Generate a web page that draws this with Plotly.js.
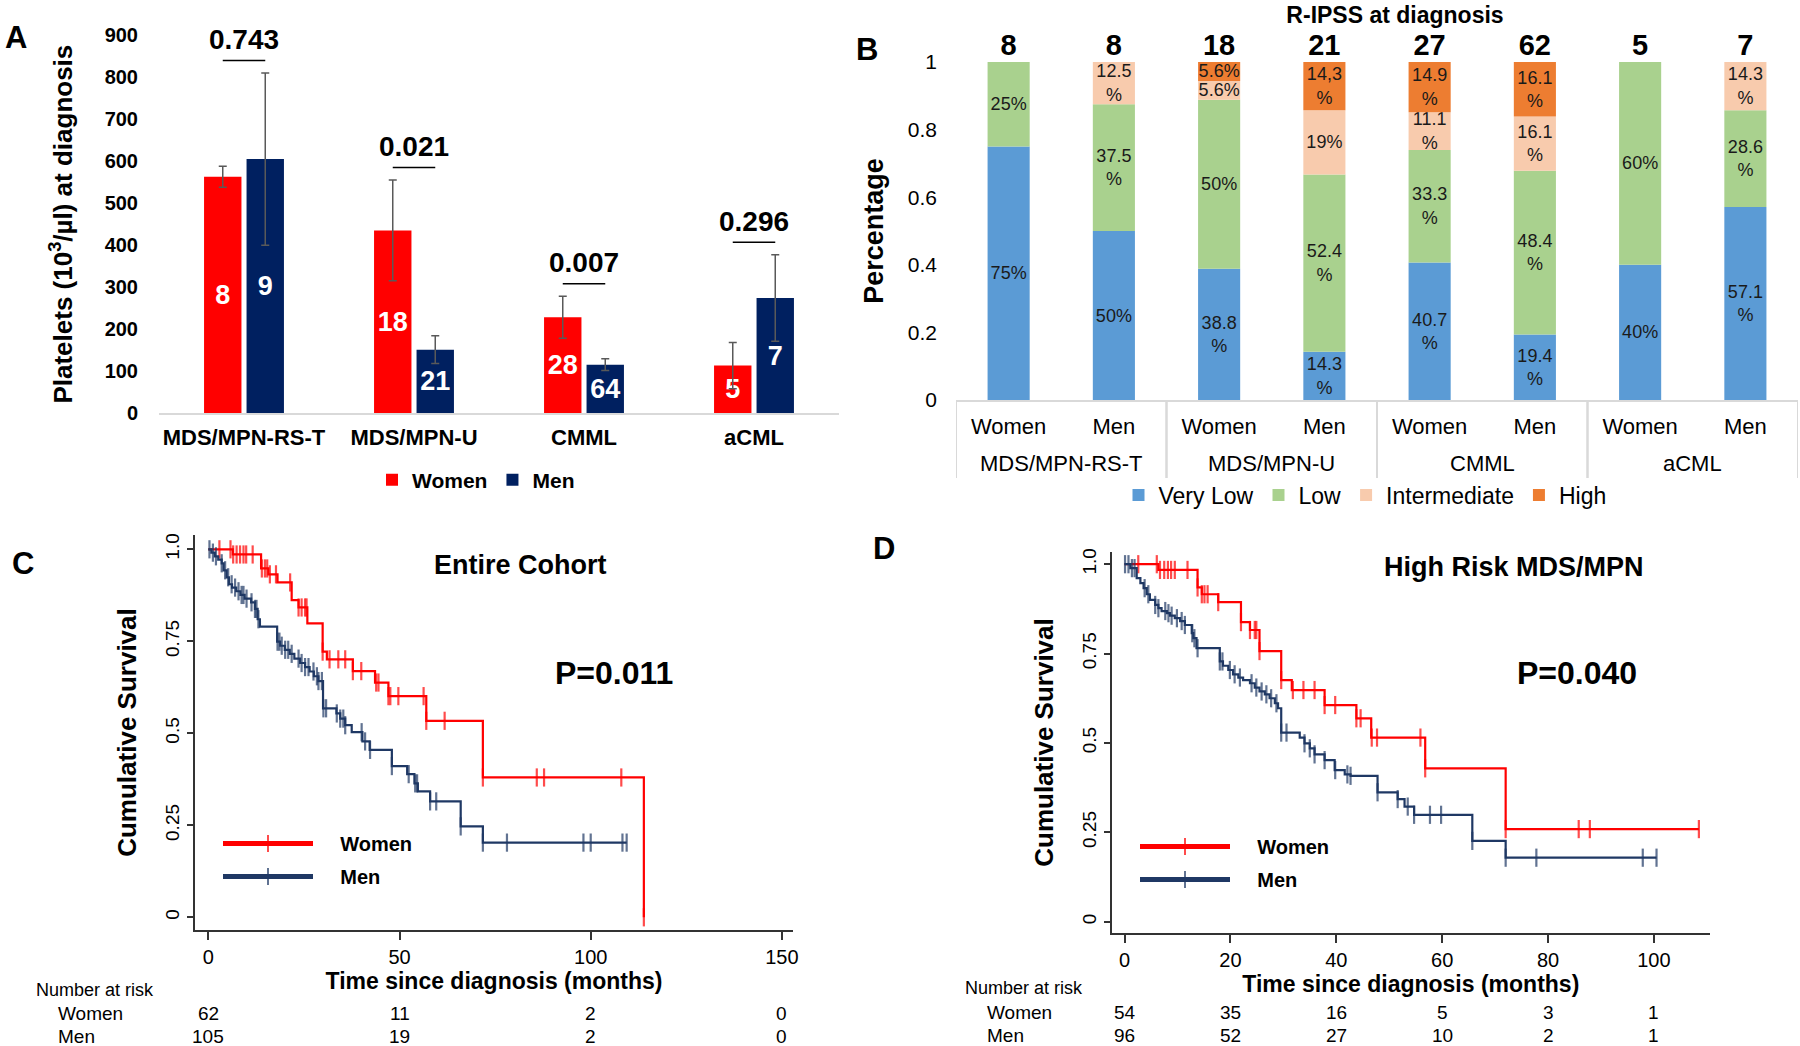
<!DOCTYPE html>
<html><head><meta charset="utf-8">
<script src="https://cdn.plot.ly/plotly-3.0.1.min.js"></script>
<style>html,body{margin:0;padding:0;background:#fff}#chart{width:1800px;height:1046px}</style>
</head><body><div id="chart"></div>
<script>
// ---------- Panel A: platelets ----------
const subtypes = ["MDS/MPN-RS-T", "MDS/MPN-U", "CMML", "aCML"];
const plateletWomen = [563, 435, 228, 113];
const plateletWomenErr = [25, 120, 50, 55];
const plateletMen = [605, 151, 115, 274];
const plateletMenErr = [205, 33, 14, 103];
const nWomen = [8, 18, 28, 5];
const nMen = [9, 21, 64, 7];
const pValues = ["0.743", "0.021", "0.007", "0.296"];

// ---------- Panel B: R-IPSS ----------
const bGroups = ["MDS/MPN-RS-T","MDS/MPN-RS-T","MDS/MPN-U","MDS/MPN-U","CMML","CMML","aCML","aCML"];
const bSex = ["Women","Men","Women","Men","Women","Men","Women","Men"];
const bCounts = [8, 8, 18, 21, 27, 62, 5, 7];
const veryLow = [0.75, 0.5, 0.388, 0.143, 0.407, 0.194, 0.4, 0.571];
const low = [0.25, 0.375, 0.5, 0.524, 0.333, 0.484, 0.6, 0.286];
const intermediate = [0, 0.125, 0.056, 0.19, 0.111, 0.161, 0, 0.143];
const high = [0, 0, 0.056, 0.143, 0.149, 0.161, 0, 0];
const veryLowLabels = ["75%","50%","38.8<br>%","14.3<br>%","40.7<br>%","19.4<br>%","40%","57.1<br>%"];
const lowLabels = ["25%","37.5<br>%","50%","52.4<br>%","33.3<br>%","48.4<br>%","60%","28.6<br>%"];
const intermediateLabels = ["","12.5<br>%","5.6%","19%","11.1<br>%","16.1<br>%","","14.3<br>%"];
const highLabels = ["","","5.6%","14,3<br>%","14.9<br>%","16.1<br>%","",""];

// ---------- Panel C: entire cohort KM ----------
const cWomenT = [6.4, 13.8, 15.7, 18.1, 21.8, 23.6, 25.9, 29.9, 31.0, 37.8, 43.6, 47.1, 57.0, 71.8, 113.9];
const cWomenS = [0.986, 0.948, 0.932, 0.910, 0.862, 0.842, 0.799, 0.722, 0.701, 0.669, 0.638, 0.601, 0.534, 0.380, 0];
const cWomenCens = [2.9, 5.8, 6.5, 7.4, 8.3, 9.2, 9.9, 11.6, 14.0, 14.8, 15.4, 16.1, 17.7, 21.4, 23.6, 24.4, 25.3, 25.7, 29.9, 31.7, 34.0, 35.8, 37.8, 40.0, 43.9, 44.5, 47.1, 47.6, 49.7, 56.3, 57.0, 61.8, 71.8, 85.9, 87.8, 108.0, 113.9];
const cMenT = [0.8, 1.7, 2.6, 3.5, 4.0, 4.8, 5.4, 6.2, 7.3, 8.4, 9.5, 11.2, 12.2, 12.9, 13.5, 18.0, 18.8, 20.0, 21.3, 22.5, 24.0, 25.3, 26.5, 27.6, 28.8, 30.0, 33.5, 34.5, 35.8, 37.5, 40.3, 42.2, 48.0, 52.0, 53.9, 54.8, 58.0, 66.0, 71.8];
const cMenS = [0.991, 0.981, 0.972, 0.962, 0.943, 0.924, 0.905, 0.896, 0.886, 0.876, 0.866, 0.856, 0.838, 0.810, 0.790, 0.749, 0.738, 0.727, 0.716, 0.703, 0.691, 0.680, 0.668, 0.655, 0.642, 0.568, 0.554, 0.540, 0.522, 0.503, 0.478, 0.455, 0.411, 0.389, 0.364, 0.342, 0.315, 0.247, 0.203];
const cMenCens = [0.3, 1.2, 2.0, 3.5, 4.4, 5.2, 6.1, 7.0, 7.9, 8.7, 9.2, 10.0, 11.3, 12.2, 12.6, 13.1, 18.1, 18.6, 19.2, 20.1, 20.9, 21.8, 23.6, 24.4, 25.3, 26.2, 27.5, 28.4, 28.8, 29.7, 30.1, 30.8, 33.6, 34.5, 35.3, 35.8, 40.1, 41.0, 42.3, 48.0, 52.4, 54.1, 54.6, 58.0, 59.6, 66.0, 71.8, 78.1, 98.1, 100.0, 108.3, 109.4];
const riskTimesC = [0, 50, 100, 150];
const riskWomenC = [62, 11, 2, 0];
const riskMenC = [105, 19, 2, 0];

// ---------- Panel D: high risk KM ----------
const dWomenT = [6.4, 13.8, 14.6, 17.7, 22.0, 23.7, 25.5, 29.6, 31.6, 37.8, 43.8, 46.6, 56.8, 72.0];
const dWomenS = [0.984, 0.935, 0.916, 0.894, 0.838, 0.816, 0.757, 0.676, 0.648, 0.606, 0.569, 0.515, 0.429, 0.259];
const dWomenCens = [2.6, 6.1, 6.7, 7.5, 8.2, 8.8, 9.5, 11.9, 13.8, 14.6, 15.1, 15.7, 17.7, 22.0, 23.7, 24.6, 24.9, 25.5, 29.6, 31.8, 33.8, 35.9, 37.8, 39.8, 43.8, 44.6, 46.7, 47.7, 55.9, 56.8, 72.0, 85.8, 87.9, 108.5];
const dMenT = [1.1, 2.3, 3.0, 3.6, 4.2, 4.8, 5.8, 6.4, 7.0, 8.0, 8.6, 9.5, 10.5, 11.4, 12.7, 13.0, 13.6, 18.0, 18.6, 19.6, 20.5, 21.5, 22.4, 23.7, 24.6, 25.5, 26.5, 27.4, 28.4, 29.0, 29.6, 33.1, 34.0, 35.0, 35.9, 37.8, 39.7, 41.6, 42.7, 47.8, 51.6, 52.9, 54.7, 65.7, 72.0];
const dMenS = [0.989, 0.961, 0.947, 0.933, 0.916, 0.900, 0.886, 0.877, 0.869, 0.863, 0.856, 0.849, 0.841, 0.830, 0.807, 0.793, 0.765, 0.728, 0.716, 0.704, 0.692, 0.683, 0.676, 0.667, 0.655, 0.644, 0.636, 0.625, 0.611, 0.597, 0.529, 0.515, 0.499, 0.485, 0.468, 0.452, 0.424, 0.412, 0.408, 0.362, 0.343, 0.322, 0.299, 0.226, 0.179];
const dMenCens = [0.1, 0.75, 1.4, 1.9, 3.8, 4.5, 5.8, 6.4, 7.7, 8.3, 8.9, 9.9, 10.8, 11.4, 12.8, 13.2, 13.8, 18.0, 18.5, 19.9, 20.8, 21.8, 24.0, 24.9, 25.9, 26.8, 27.7, 28.7, 29.6, 30.6, 34.0, 35.0, 35.9, 37.8, 39.8, 42.1, 42.7, 47.8, 51.6, 53.5, 54.7, 57.7, 59.8, 65.7, 72.0, 77.8, 97.9, 100.5];
const riskTimesD = [0, 20, 40, 60, 80, 100];
const riskWomenD = [54, 35, 16, 5, 3, 1];
const riskMenD = [96, 52, 27, 10, 2, 1];

// ---------- styling ----------
const FONT = "Liberation Sans, Arial, Helvetica, sans-serif";
const RED = "#FF0000", NAVY_A = "#002060", NAVY = "#1F3864";
const CVL = "#5B9BD5", CLOW = "#A9D18E", CINT = "#F8CBAD", CHIGH = "#ED7D31";
const GRID = "#d9d9d9";
const px = v => v / 1800, py = v => 1 - v / 1046;
const PAD = "\u00a0\u00a0\u00a0\u00a0";

const traces = [];

// Panel A bars
[[plateletWomen, plateletWomenErr, nWomen, "Women", RED], [plateletMen, plateletMenErr, nMen, "Men", NAVY_A]].forEach(d => {
  traces.push({
    type: "bar", x: subtypes, y: d[0], name: d[3], xaxis: "x", yaxis: "y", legend: "legend",
    marker: {color: d[4]},
    error_y: {type: "data", array: d[1], color: "#595959", thickness: 1.5, width: 4},
    text: d[2].map(String), textposition: "inside", insidetextanchor: "middle", textangle: 0, constraintext: "none",
    textfont: {color: "#fff", size: 27, family: FONT, weight: "bold"}
  });
});

// Panel B stacked bars (manual stacking with base), positions = bar index on a linear axis
const bIdx = bSex.map((_, i) => i);
const series = [
  {vals: veryLow, labels: veryLowLabels, color: CVL, name: "Very Low"},
  {vals: low, labels: lowLabels, color: CLOW, name: "Low"},
  {vals: intermediate, labels: intermediateLabels, color: CINT, name: "Intermediate"},
  {vals: high, labels: highLabels, color: CHIGH, name: "High"}
];
let running = veryLow.map(() => 0);
series.forEach(s => {
  const base = running.slice();
  traces.push({
    type: "bar", x: bIdx, y: s.vals, base: base, width: 0.4, offset: -0.2,
    name: s.name, xaxis: "x2", yaxis: "y2", legend: "legend2",
    marker: {color: s.color, line: {width: 0}},
    text: s.labels, textposition: "inside", insidetextanchor: "middle", textangle: 0, constraintext: "none",
    textfont: {color: "#1a1a1a", size: 18, family: FONT}
  });
  running = running.map((r, i) => r + s.vals[i]);
});
traces.push({
  type: "scatter", mode: "text", x: bIdx, y: running, text: bCounts.map(String),
  textposition: "top center", cliponaxis: false, showlegend: false, xaxis: "x2", yaxis: "y2",
  textfont: {size: 29, family: FONT, weight: "bold", color: "#000"}
});

// KM helper
function kmTrace(stepT, stepS, cens, color, name, xa, ya, legend, group) {
  const survAt = t => { let s = 1; for (let i = 0; i < stepT.length; i++) if (stepT[i] <= t) s = stepS[i]; return s; };
  const pts = [{t: 0, s: 1, c: 0}];
  stepT.forEach((t, i) => pts.push({t: t, s: stepS[i], c: 0}));
  cens.forEach(t => pts.push({t: t, s: survAt(t), c: 1}));
  pts.sort((a, b) => (a.t - b.t) || (a.c - b.c));
  return {
    type: "scatter", mode: "lines+markers", name: PAD + name, xaxis: xa, yaxis: ya, legend: legend, legendgroup: group,
    x: pts.map(p => p.t), y: pts.map(p => p.s), cliponaxis: false,
    line: {shape: "hv", color: color, width: 2.2},
    marker: {symbol: "line-ns", size: pts.map(p => p.c ? 13 : 0), color: color, line: {color: color, width: 2.2}}
  };
}
traces.push(kmTrace(cWomenT, cWomenS, cWomenCens, RED, "Women", "x3", "y3", "legend3", "w"));
traces.push(kmTrace(cMenT, cMenS, cMenCens, NAVY, "Men", "x3", "y3", "legend3", "m"));
traces.push(kmTrace(dWomenT, dWomenS, dWomenCens, RED, "Women", "x4", "y4", "legend4", "w"));
traces.push(kmTrace(dMenT, dMenS, dMenCens, NAVY, "Men", "x4", "y4", "legend4", "m"));

// ---------- annotations & shapes ----------
const annotations = [];
const shapes = [];
const letter = (t, x, y) => annotations.push({text: t, xref: "paper", yref: "paper", x: px(x), y: py(y), showarrow: false,
  xanchor: "center", yanchor: "middle", font: {size: 31, family: FONT, weight: "bold", color: "#000"}});
letter("A", 16, 37); letter("B", 867, 49); letter("C", 23, 563); letter("D", 884, 548);

// P-value brackets (panel A)
subtypes.forEach((s, i) => {
  const top = Math.max(plateletWomen[i] + plateletWomenErr[i], plateletMen[i] + plateletMenErr[i]);
  const ly = top + 30;
  shapes.push({type: "line", xref: "x", yref: "y", x0: i - 0.125, x1: i + 0.125, y0: ly, y1: ly,
    line: {color: "#000", width: 1.5}});
  annotations.push({text: pValues[i], xref: "x", yref: "y", x: i, y: ly + 50, showarrow: false,
    xanchor: "center", yanchor: "middle", font: {size: 28, family: FONT, weight: "bold", color: "#000"}});
});

// Panel B: group labels row and table dividers (derived from bGroups)
const groupNames = [...new Set(bGroups)];
groupNames.forEach(g => {
  const idx = bIdx.filter(i => bGroups[i] === g);
  const lo = Math.min(...idx), hi = Math.max(...idx);
  annotations.push({text: g, xref: "x2", yref: "paper", x: (lo + hi) / 2, y: py(463), xanchor: "center", yanchor: "middle",
    showarrow: false, font: {size: 22, family: FONT, color: "#000"}});
  [lo - 0.5, hi + 0.5].forEach(b => shapes.push({type: "line", xref: "x2", yref: "paper", x0: b, x1: b,
    y0: py(400), y1: py(478), line: {color: GRID, width: 2}}));
});

// KM panel texts
const txt = (t, x, y, size, bold, anchor) => annotations.push({text: t, xref: "paper", yref: "paper",
  x: px(x), y: py(y), xanchor: anchor || "center", yanchor: "middle", showarrow: false,
  font: {size: size, family: FONT, weight: bold ? "bold" : "normal", color: "#000"}});
txt("Entire Cohort", 520, 565, 27, true);
txt("P=0.011", 614, 673, 32, true);
txt("High Risk MDS/MPN", 1514, 567, 27, true);
txt("P=0.040", 1577, 673, 32, true);

// Number at risk tables
const riskRow = (times, vals, xa, yPix) => times.forEach((t, i) => annotations.push({
  text: String(vals[i]), xref: xa, yref: "paper", x: t, y: py(yPix), xanchor: "center", yanchor: "middle",
  showarrow: false, font: {size: 19, family: FONT, color: "#000"}}));
txt("Number at risk", 34, 990, 18, false, "left");
txt("Women", 56, 1013, 19, false, "left");
txt("Men", 56, 1036, 19, false, "left");
riskRow(riskTimesC, riskWomenC, "x3", 1013);
riskRow(riskTimesC, riskMenC, "x3", 1036);
txt("Number at risk", 963, 988, 18, false, "left");
txt("Women", 985, 1012, 19, false, "left");
txt("Men", 985, 1035, 19, false, "left");
riskRow(riskTimesD, riskWomenD, "x4", 1012);
riskRow(riskTimesD, riskMenD, "x4", 1035);

// ---------- axes ----------
const kmX = (dom, range, ticks, anchor) => ({
  domain: dom, range: range, tickvals: ticks, anchor: anchor, ticks: "outside", ticklen: 8, tickwidth: 1.5, tickcolor: "#333",
  showline: true, linecolor: "#333", linewidth: 2, showgrid: false, zeroline: false,
  tickfont: {size: 20, family: FONT, color: "#000"},
  title: {text: "Time since diagnosis (months)", font: {size: 23, family: FONT, weight: "bold", color: "#000"}, standoff: 6}
});
const kmY = (dom, range, anchor) => ({
  domain: dom, range: range, anchor: anchor, tickvals: [0, 0.25, 0.5, 0.75, 1], ticktext: ["0", "0.25", "0.5", "0.75", "1.0"],
  tickangle: -90, ticks: "outside", ticklen: 6, tickwidth: 1.5, tickcolor: "#333",
  showline: true, linecolor: "#333", linewidth: 2, showgrid: false, zeroline: false,
  tickfont: {size: 19, family: FONT, color: "#000"},
  title: {text: "Cumulative Survival", font: {size: 26, family: FONT, weight: "bold", color: "#000"}, standoff: 18}
});
const kmLegend = (x, y) => ({x: px(x), y: py(y), xanchor: "left", yanchor: "top", bgcolor: "rgba(0,0,0,0)",
  itemsizing: "constant", itemwidth: 90, tracegroupgap: 4, font: {size: 20, family: FONT, weight: "bold", color: "#000"}});

const layout = {
  width: 1800, height: 1046, margin: {l: 0, r: 0, t: 0, b: 0},
  paper_bgcolor: "#fff", plot_bgcolor: "rgba(0,0,0,0)",
  font: {family: FONT, color: "#000"},
  barmode: "group", bargap: 0.5, bargroupgap: 0.12,
  title: {text: "R-IPSS at diagnosis", x: 0.775, xanchor: "center", y: py(15), yanchor: "middle",
    font: {size: 23, family: FONT, weight: "bold", color: "#000"}},
  xaxis: {domain: [px(159), px(839)], range: [-0.5, 3.5], type: "category", anchor: "y", showline: true, linecolor: GRID, linewidth: 2,
    ticks: "", ticklabelstandoff: 4, showgrid: false, zeroline: false, tickfont: {size: 22, family: FONT, weight: "bold", color: "#000"}},
  yaxis: {domain: [py(413), py(35.3)], range: [0, 900], dtick: 100, anchor: "x", showgrid: false, zeroline: false, showline: false,
    ticks: "", ticklabelstandoff: 20, tickfont: {size: 20, family: FONT, weight: "bold", color: "#000"},
    title: {text: "Platelets (10<sup>3</sup>/µl) at diagnosis", font: {size: 26, family: FONT, weight: "bold", color: "#000"}, standoff: 24}},
  xaxis2: {domain: [px(956), px(1798)], range: [-0.5, bSex.length - 0.5], anchor: "y2",
    tickvals: bIdx, ticktext: bSex, showline: true, linecolor: GRID, linewidth: 2, ticks: "", ticklabelstandoff: 6,
    showgrid: false, zeroline: false, tickfont: {size: 22, family: FONT, color: "#000"}},
  yaxis2: {domain: [py(400), py(62)], range: [0, 1], dtick: 0.2, anchor: "x2", showgrid: false, zeroline: false, showline: false,
    ticks: "", ticklabelstandoff: 18, tickfont: {size: 21, family: FONT, color: "#000"},
    title: {text: "Percentage", font: {size: 27, family: FONT, weight: "bold", color: "#000"}, standoff: 16}},
  xaxis3: kmX([px(195), px(793)], [-3.48, 152.9], [0, 50, 100, 150], "y3"),
  yaxis3: kmY([py(930), py(535)], [-0.0345, 1.0389], "x3"),
  xaxis4: kmX([px(1111.7), px(1710)], [-2.42, 110.6], [0, 20, 40, 60, 80, 100], "y4"),
  yaxis4: kmY([py(933.3), py(551.7)], [-0.0325, 1.035], "x4"),
  legend: {x: px(476), y: py(480), xanchor: "center", yanchor: "middle", orientation: "h", bgcolor: "rgba(0,0,0,0)",
    font: {size: 21, family: FONT, weight: "bold", color: "#000"}},
  legend2: {x: px(1365), y: py(495), xanchor: "center", yanchor: "middle", orientation: "h", bgcolor: "rgba(0,0,0,0)",
    font: {size: 23, family: FONT, color: "#000"}},
  legend3: kmLegend(218, 824),
  legend4: kmLegend(1135, 827),
  annotations: annotations, shapes: shapes
};

Plotly.newPlot("chart", traces, layout, {displayModeBar: false, responsive: false});
</script>
</body></html>
